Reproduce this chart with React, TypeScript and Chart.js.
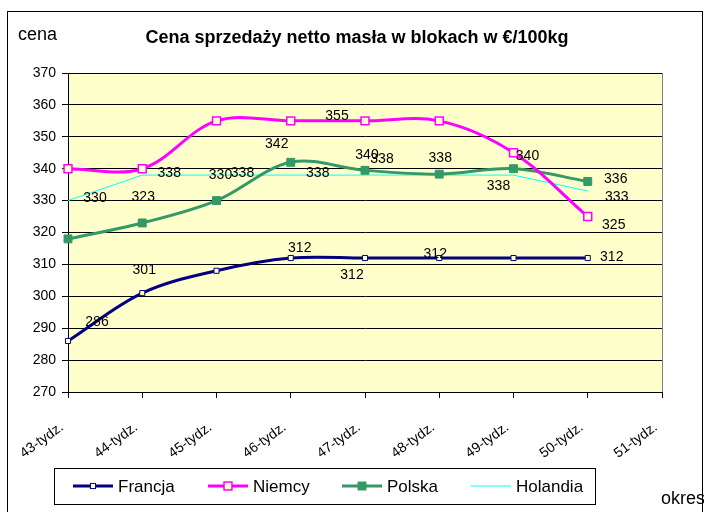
import React, { useEffect, useRef } from "react";
import { Chart, registerables } from "chart.js";

Chart.register(...registerables);

const categories = ["43-tydz.", "44-tydz.", "45-tydz.", "46-tydz.", "47-tydz.", "48-tydz.", "49-tydz.", "50-tydz.", "51-tydz."];
const francja = [286, 301, 308, 312, 312, 312, 312, 312];
const niemcy = [340, 340, 355, 355, 355, 355, 345, 325];
const polska = [318, 323, 330, 342, 339.5, 338.3, 340, 336];
const holandia = [330, 338, 338, 338, 338, 338, 338, 333];
const yMin = 270;
const yMax = 370;
const yStep = 10;

const titleText = "Cena sprzedaży netto masła w blokach w €/100kg";
const yAxisTitle = "cena";
const xAxisTitle = "okres";

// label offsets (style): [dx, dy] in px relative to point, null = hidden
const labelOffsets: (number[] | null)[][] = [
  [[29, -19], [2, -23], null, [9, -10], [-13, 17], [-4, -4], null, [24, -1]],
  [null, null, null, null, [-28, -5], null, null, [26, 9]],
  [null, [1, -26], [4, -25], [-14, -18], [2, -15], [1, -16], [14, -13], [28, -2]],
  [[27, -2], [27, -2], [26, -2], [27, -2], [17, -16], null, [-15, 11], [29, 6]],
];

const FONT = "'Liberation Sans', Arial, sans-serif";
const PLOT_BG = "#FFFFCC";

const decorPlugin = {
  id: "decor",
  beforeDraw(chart: any) {
    const { ctx, chartArea } = chart;
    ctx.save();
    ctx.fillStyle = "#ffffff";
    ctx.fillRect(0, 0, chart.width, chart.height);
    ctx.strokeStyle = "#000";
    ctx.lineWidth = 1;
    ctx.strokeRect(7.5, 11.5, 695, 540);
    ctx.fillStyle = PLOT_BG;
    ctx.fillRect(chartArea.left, chartArea.top, chartArea.right - chartArea.left, chartArea.bottom - chartArea.top);
    ctx.strokeStyle = "#808080";
    ctx.strokeRect(chartArea.left + 0.5, chartArea.top + 0.5, chartArea.right - chartArea.left, chartArea.bottom - chartArea.top);
    ctx.restore();
  },
  afterDraw(chart: any) {
    const { ctx } = chart;
    ctx.save();
    ctx.fillStyle = "#000";
    ctx.textBaseline = "alphabetic";
    ctx.font = `bold 18px ${FONT}`;
    ctx.textAlign = "center";
    ctx.fillText(titleText, 357, 43);
    ctx.font = `18px ${FONT}`;
    ctx.textAlign = "left";
    ctx.fillText(yAxisTitle, 18, 40);
    ctx.textAlign = "right";
    ctx.fillText(xAxisTitle, 705, 504);

    // legend
    const lx = 54.5, ly = 468.5, lw = 541, lh = 36;
    ctx.strokeStyle = "#000";
    ctx.lineWidth = 1;
    ctx.strokeRect(lx, ly, lw, lh);
    const itemX = [73, 208, 342, 471];
    const cy = 486;
    chart.data.datasets.forEach((ds: any, i: number) => {
      const x0 = itemX[i];
      ctx.strokeStyle = ds.borderColor;
      ctx.lineWidth = ds.borderWidth;
      ctx.beginPath();
      ctx.moveTo(x0, cy);
      ctx.lineTo(x0 + 40, cy);
      ctx.stroke();
      if (ds.pointRadius > 0) {
        const s = ds.pointRadius * Math.SQRT1_2;
        ctx.fillStyle = ds.pointBackgroundColor;
        ctx.fillRect(x0 + 20 - s, cy - s, 2 * s, 2 * s);
        ctx.strokeStyle = ds.pointBorderColor;
        ctx.lineWidth = ds.pointBorderWidth;
        ctx.strokeRect(x0 + 20 - s, cy - s, 2 * s, 2 * s);
      }
      ctx.fillStyle = "#000";
      ctx.font = `17px ${FONT}`;
      ctx.textAlign = "left";
      ctx.textBaseline = "middle";
      ctx.fillText(ds.label, x0 + 45, cy + 1);
    });
    ctx.restore();
  },
  afterDatasetsDraw(chart: any) {
    const { ctx } = chart;
    ctx.save();
    ctx.fillStyle = "#000";
    ctx.font = `14px ${FONT}`;
    ctx.textAlign = "center";
    ctx.textBaseline = "middle";
    chart.data.datasets.forEach((ds: any, i: number) => {
      const meta = chart.getDatasetMeta(i);
      meta.data.forEach((pt: any, j: number) => {
        const off = labelOffsets[i][j];
        if (!off) return;
        ctx.fillText(String(Math.round(ds.data[j])), pt.x + off[0], pt.y + off[1]);
      });
    });
    ctx.restore();
  },
};

export default function App() {
  const ref = useRef<HTMLCanvasElement>(null);
  useEffect(() => {
    if (!ref.current) return;
    const chart = new Chart(ref.current, {
      type: "line",
      data: {
        labels: categories,
        datasets: [
          {
            label: "Francja",
            data: francja,
            borderColor: "#000080",
            borderWidth: 3,
            tension: 0.35,
            pointStyle: "rect",
            pointRadius: 3.6,
            pointBackgroundColor: PLOT_BG,
            pointBorderColor: "#000080",
            pointBorderWidth: 1,
          },
          {
            label: "Niemcy",
            data: niemcy,
            borderColor: "#FF00FF",
            borderWidth: 3,
            tension: 0.35,
            pointStyle: "rect",
            pointRadius: 5.6,
            pointBackgroundColor: PLOT_BG,
            pointBorderColor: "#FF00FF",
            pointBorderWidth: 1.5,
          },
          {
            label: "Polska",
            data: polska,
            borderColor: "#339966",
            borderWidth: 3,
            tension: 0.35,
            pointStyle: "rect",
            pointRadius: 5.6,
            pointBackgroundColor: "#339966",
            pointBorderColor: "#339966",
            pointBorderWidth: 1,
          },
          {
            label: "Holandia",
            data: holandia,
            borderColor: "#00FFFF",
            borderWidth: 1,
            tension: 0,
            pointRadius: 0,
            pointBackgroundColor: "#00FFFF",
            pointBorderColor: "#00FFFF",
            pointBorderWidth: 0,
          },
        ],
      },
      options: {
        animation: false,
        responsive: false,
        events: [],
        layout: { padding: { top: 73, right: 42, left: 0, bottom: 0 } },
        plugins: {
          legend: { display: false },
          title: { display: false },
          tooltip: { enabled: false },
        },
        scales: {
          x: {
            type: "category",
            offset: false,
            afterFit: (s: any) => { s.height = 120; },
            grid: { display: true, drawOnChartArea: false, drawTicks: true, tickLength: 6, color: "#000" },
            border: { display: true, color: "#000", width: 1 },
            ticks: {
              autoSkip: false,
              maxRotation: 36,
              minRotation: 36,
              padding: 21,
              labelOffset: -6,
              color: "#000",
              font: { family: FONT, size: 14 },
            },
          },
          y: {
            min: yMin,
            max: yMax,
            afterFit: (s: any) => { s.width = 68; },
            grid: { color: "#000", lineWidth: 1, drawTicks: true, tickLength: 6, tickColor: "#000" },
            border: { display: true, color: "#000", width: 1 },
            ticks: {
              stepSize: yStep,
              padding: 6,
              color: "#000",
              font: { family: FONT, size: 14 },
            },
          },
        },
      },
      plugins: [decorPlugin],
    });
    return () => chart.destroy();
  }, []);
  return (
    <div style={{ position: "fixed", left: 0, top: 0, width: 704, height: 512 }}>
      <canvas ref={ref} width={704} height={512} style={{ width: 704, height: 512, display: "block" }} />
    </div>
  );
}
